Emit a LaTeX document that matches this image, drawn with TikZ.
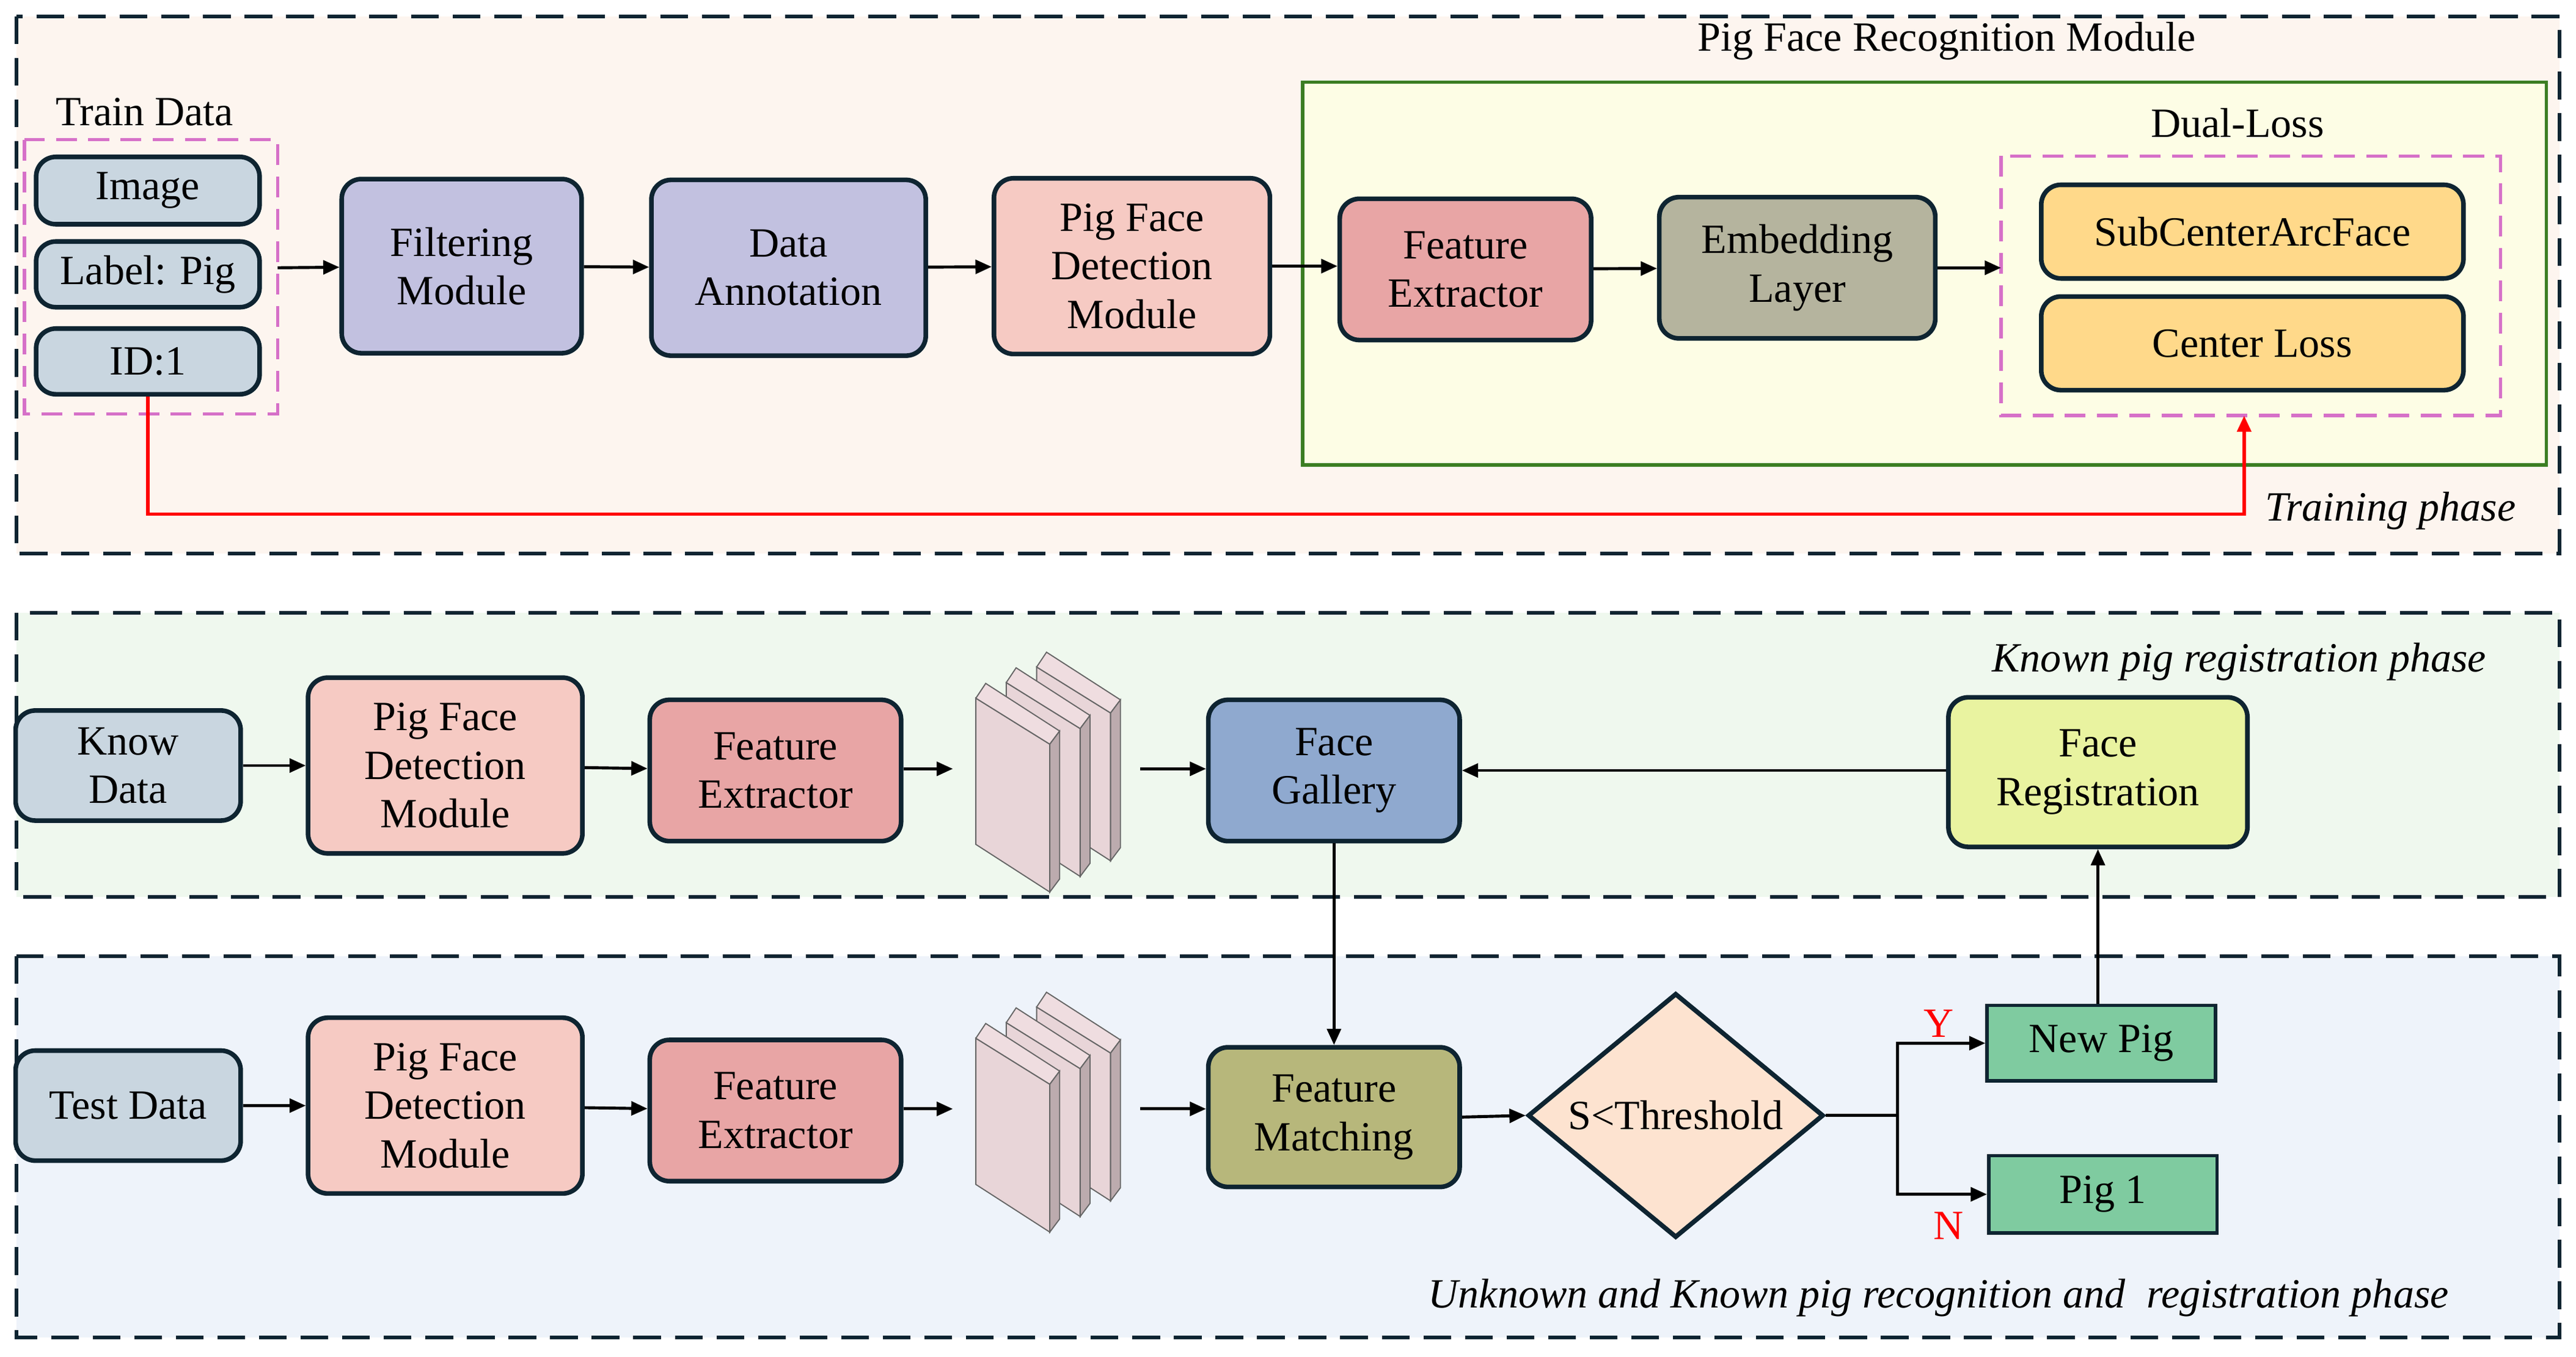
\documentclass[tikz,border=0pt]{standalone}
\usepackage{fontspec}
\setmainfont{Liberation Serif}
\usetikzlibrary{shapes.geometric,arrows.meta}
\definecolor{dk}{HTML}{0E2431}
\definecolor{cgray}{HTML}{C9D6E0}
\definecolor{cpur}{HTML}{C2C1E0}
\definecolor{cpink}{HTML}{F6CAC3}
\definecolor{cred}{HTML}{E8A5A5}
\definecolor{cemb}{HTML}{B5B49E}
\definecolor{cyel}{HTML}{FFD98A}
\definecolor{cgal}{HTML}{8FA9CF}
\definecolor{creg}{HTML}{E9F3A0}
\definecolor{cmat}{HTML}{B7B77B}
\definecolor{cdia}{HTML}{FDE3D0}
\definecolor{cgrn}{HTML}{7FCBA0}
\definecolor{slab}{HTML}{E8D5D8}
\definecolor{slabt}{HTML}{EFDDE0}
\definecolor{slabs}{HTML}{BCABAE}
\definecolor{mag}{HTML}{D670C8}
\definecolor{bgA}{HTML}{FDF5EF}
\definecolor{bgB}{HTML}{EFF8EE}
\definecolor{bgC}{HTML}{EEF3FA}
\definecolor{bgG}{HTML}{FDFDE5}
\definecolor{grn}{HTML}{3A7D22}
\def\u{0.025cm}
\begin{document}
\fontsize{18}{21}\selectfont
\begin{tikzpicture}[x=0.025cm,y=-0.025cm,
  box/.style={draw=dk,line width=2pt,rounded corners=0.3cm,align=center,inner sep=0pt},
  arr/.style={-{Triangle[length=7pt,width=6pt]},line width=1.3pt},
  panel/.style={draw=dk,line width=1.5pt,dash pattern=on 12pt off 6pt},
  mdash/.style={draw=mag,line width=1.5pt,dash pattern=on 9pt off 5pt},
  pics/slabset/.style={code={
    \foreach \i in {2,1,0}{
      \begin{scope}[shift={(18.5*\i,-9.5*\i)}]
      \filldraw[draw=gray!80!black,line width=0.5pt,fill=slab] (594,425)--(639,453)--(639,543)--(594,514)--cycle;
      \filldraw[draw=gray!80!black,line width=0.5pt,fill=slabt] (594,425)--(600,416)--(645,445)--(639,453)--cycle;
      \filldraw[draw=gray!80!black,line width=0.5pt,fill=slabs] (639,453)--(645,445)--(645,535)--(639,543)--cycle;
      \end{scope}}
  }}]
\useasboundingbox (0,0) rectangle (1568,826);
% panels
\path[panel,fill=bgA] (10,10) rectangle (1558,337);
\path[panel,fill=bgB] (10,373) rectangle (1558,546);
\path[panel,fill=bgC] (10,582) rectangle (1558,814);
\node (t1) at (1185,25) {Pig Face Recognition Module};
\node[font=\itshape] (t2) at (1455,311) {Training phase};
\node[font=\itshape] (t3) at (1363,403) {Known pig registration phase};
\node[font=\itshape] (t4) at (1180,790) {Unknown and Known pig recognition and\ \ registration phase};
% green region
\path[draw=grn,line width=1.5pt,fill=bgG] (793,50) rectangle (1550,283);
\node (dl) at (1362,75) {Dual-Loss};
\path[mdash] (1218,95) rectangle (1522,253);
\node[box,fill=cyel,minimum width=257*\u,minimum height=57*\u] (sc) at (1371,141) {SubCenterArcFace};
\node[box,fill=cyel,minimum width=257*\u,minimum height=57*\u] (cl) at (1371,209) {Center Loss};
% train data
\node (td) at (88,68) {Train Data};
\path[mdash] (15,85) rectangle (169,252);
\node[box,fill=cgray,minimum width=136*\u,minimum height=41*\u] (im) at (90,116) {Image};
\node[box,fill=cgray,minimum width=136*\u,minimum height=40*\u] (lb) at (90,167) {Label: Pig};
\node[box,fill=cgray,minimum width=136*\u,minimum height=40*\u] (id) at (90,220) {ID:1};
\coordinate (tdr) at (169,163);
\node[box,fill=cpur,minimum width=146*\u,minimum height=106*\u] (fm) at (281,162) {Filtering\\Module};
\node[box,fill=cpur,minimum width=167*\u,minimum height=107*\u] (da) at (480,163) {Data\\Annotation};
\node[box,fill=cpink,minimum width=168*\u,minimum height=107*\u] (pf) at (689,162) {Pig Face\\Detection\\Module};
\node[box,fill=cred,minimum width=153*\u,minimum height=86*\u] (fe) at (892,164) {Feature\\Extractor};
\node[box,fill=cemb,minimum width=168*\u,minimum height=86*\u] (em) at (1094,163) {Embedding\\Layer};
\coordinate (dlin) at (1218,163);
\draw[arr] (tdr) -- (fm);
\draw[arr] (fm) -- (da);
\draw[arr] (da) -- (pf);
\draw[arr] (pf.east) -- (fe.west|-pf.east);
\draw[arr] (fe) -- (em);
\draw[arr] (em.east|-dlin) -- (dlin);
\coordinate (rl) at (1366,253);
\draw[red,line width=1.5pt,-{Triangle[length=7pt,width=6pt]}] (id.south) -- (90,313) -- (1366,313) -- (rl);
% middle
\node[box,fill=cgray,minimum width=137*\u,minimum height=67*\u] (kd) at (78,466) {Know\\Data};
\node[box,fill=cpink,minimum width=167*\u,minimum height=107*\u] (pf2) at (271,466) {Pig Face\\Detection\\Module};
\node[box,fill=cred,minimum width=153*\u,minimum height=86*\u] (fe2) at (472,469) {Feature\\Extractor};
\pic {slabset};
\coordinate (s2i) at (580,468);
\coordinate (s2o) at (694,468);
\node[box,fill=cgal,minimum width=153*\u,minimum height=86*\u] (fg) at (812,469) {Face\\Gallery};
\node[box,fill=creg,minimum width=182*\u,minimum height=91*\u] (fr) at (1277,470) {Face\\Registration};
\draw[arr] (kd) -- (pf2);
\draw[arr] (pf2) -- (fe2);
\draw[arr] (fe2.east|-s2i) -- (s2i);
\draw[arr] (s2o) -- (fg.west|-s2o);
\draw[arr] (fr.west|-fg) -- (fg);
% bottom
\node[box,fill=cgray,minimum width=137*\u,minimum height=67*\u] (tsd) at (78,673) {Test Data};
\node[box,fill=cpink,minimum width=167*\u,minimum height=107*\u] (pf3) at (271,673) {Pig Face\\Detection\\Module};
\node[box,fill=cred,minimum width=153*\u,minimum height=86*\u] (fe3) at (472,676) {Feature\\Extractor};
\pic[yshift=-207*\u] {slabset};
\coordinate (s3i) at (580,675);
\coordinate (s3o) at (694,675);
\node[box,fill=cmat,minimum width=153*\u,minimum height=85*\u] (fmt) at (812,680) {Feature\\Matching};
\node[diamond,draw=dk,line width=2pt,fill=cdia,minimum width=180*\u,minimum height=132*\u,inner sep=0pt] (dm) at (1020,679) {S<Threshold};
\node[draw=dk,line width=1.5pt,fill=cgrn,minimum width=139*\u,minimum height=46*\u] (np) at (1279,635) {New Pig};
\node[draw=dk,line width=1.5pt,fill=cgrn,minimum width=139*\u,minimum height=47*\u] (p1) at (1280,727) {Pig 1};
\draw[arr] (tsd) -- (pf3);
\draw[arr] (pf3) -- (fe3);
\draw[arr] (fe3.east|-s3i) -- (s3i);
\draw[arr] (s3o) -- (fmt.west|-s3o);
\draw[arr] (fmt.east) -- (dm.west);
\coordinate (br) at (1155,679);
\draw[line width=1.3pt] (dm.east) -- (br);
\draw[arr] (br) |- (np.west);
\draw[arr] (br) |- (p1.west);
\node[red] (yy) at (1180,623) {Y};
\node[red] (nn) at (1186,746) {N};
\draw[arr] (np.north-|fr) -- (fr.south);
\draw[arr] (fg.south) -- (fmt.north);
\end{tikzpicture}
\end{document}
